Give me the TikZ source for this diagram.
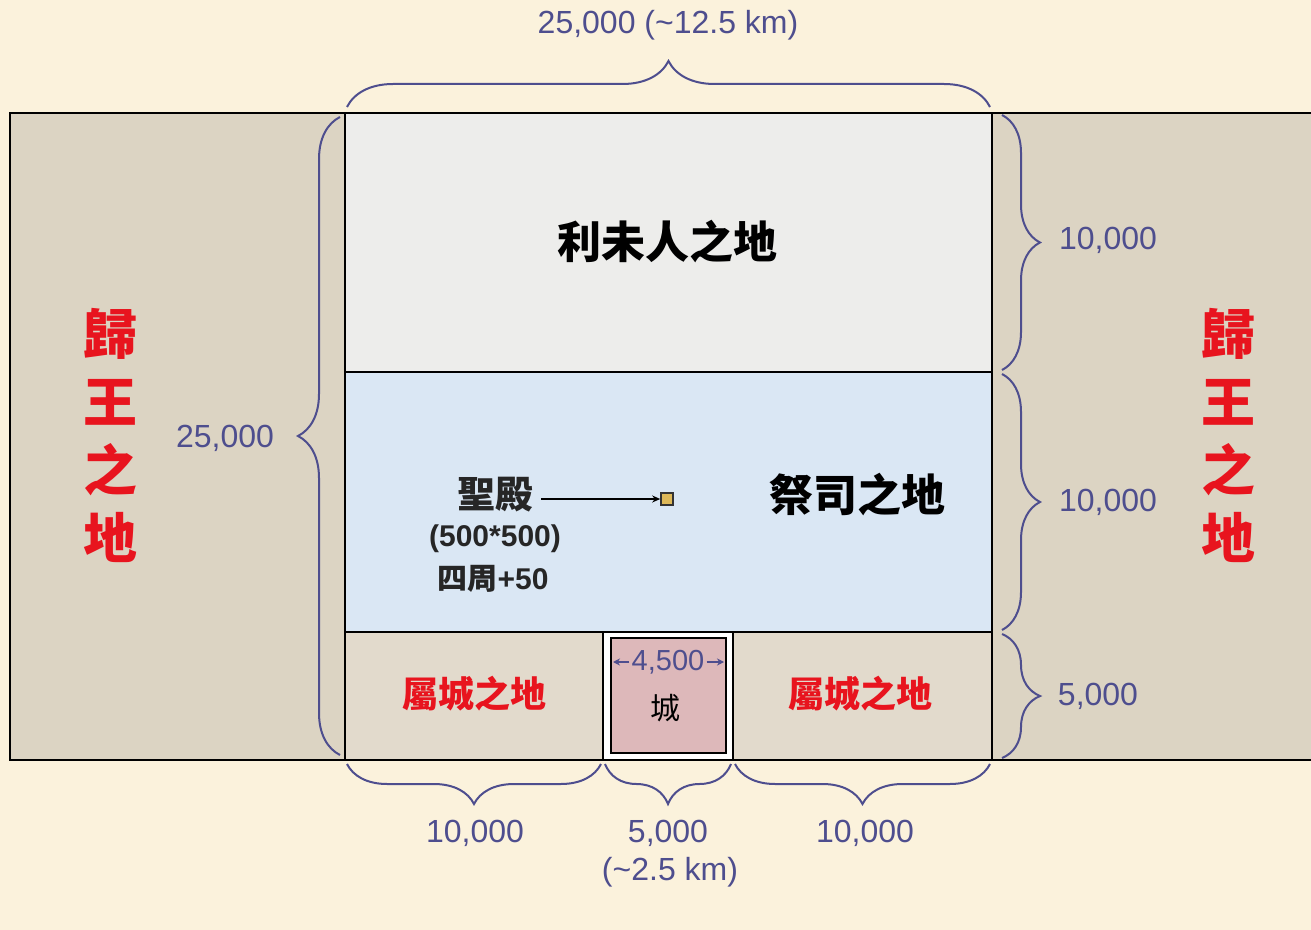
\documentclass[tikz,border=0pt]{standalone}
\usepackage{fontspec}
\setmainfont{Liberation Sans}
\newfontfamily\cjk{Noto Sans CJK TC}
\usetikzlibrary{decorations.pathreplacing,arrows.meta}
\definecolor{bgcream}{HTML}{FBF2DC}
\definecolor{outertan}{HTML}{DCD4C3}
\definecolor{topgray}{HTML}{EDEDEB}
\definecolor{midblue}{HTML}{DAE7F4}
\definecolor{bottan}{HTML}{E2DACC}
\definecolor{citypink}{HTML}{DDB8BA}
\definecolor{dimclr}{HTML}{4E4E8E}
\definecolor{redtxt}{HTML}{E8141E}
\definecolor{goldsq}{HTML}{DDB858}
\tikzset{
  region/.style={draw=black, line width=1pt},
  dimtext/.style={text=dimclr, font=\fontsize{16pt}{19pt}\selectfont, inner sep=1pt},
  bigcjk/.style={font=\cjk\bfseries\fontsize{22pt}{26pt}\selectfont, text=black},
  redcjk/.style={font=\cjk\bfseries\fontsize{18pt}{22pt}\selectfont, text=redtxt},
  kingtext/.style={font=\cjk\bfseries\fontsize{27pt}{34pt}\selectfont, text=redtxt, align=center},
  templetext/.style={font=\bfseries\fontsize{15pt}{18pt}\selectfont, text=black!85, inner sep=1pt},
  dimbrace/.style={draw=dimclr, line width=1pt, decorate, decoration={brace, amplitude=#1}},
  dimbrace/.default=20pt
}
\begin{document}
\begin{tikzpicture}[x=0.5pt,y=-0.5pt]
\fill[bgcream] (0,0) rectangle (1311,930);
\useasboundingbox (0,0) rectangle (1311,930);
% outer band
\fill[outertan] (10,113) rectangle (1311,760);
\draw[black, line width=1.2pt] (1311,113) -- (10,113) -- (10,760) -- (1311,760);
% inner regions
\draw[region, fill=topgray] (345,113) rectangle (992,372);
\draw[region, fill=midblue] (345,372) rectangle (992,632);
\draw[region, fill=bottan] (345,632) rectangle (992,760);
\fill[white] (603,633) rectangle (733,759);
\draw[region] (603,632) -- (603,760);
\draw[region] (733,632) -- (733,760);
\draw[region, line width=1.3pt, fill=citypink] (611,638) rectangle (726,753);
% region texts
\node[bigcjk] (levite) at (667,242) {利未人之地};
\node[bigcjk] (priest) at (857,495) {祭司之地};
\node[redcjk] (subl) at (474,694) {屬城之地};
\node[redcjk] (subr) at (860,694) {屬城之地};
\node[kingtext] (kingl) at (110,435) {歸\\王\\之\\地};
\node[kingtext] (kingr) at (1228,435) {歸\\王\\之\\地};
% temple
\node[templetext, font=\cjk\bfseries\fontsize{19pt}{22pt}\selectfont] (temple) at (495,495) {聖殿};
\node[templetext] (tsize) at (495,539) {(500*500)};
\node[templetext] (tplus) at (493,579) {{\cjk 四周}+50};
\node[draw=black!80, line width=0.8pt, fill=goldsq, minimum size=6pt, inner sep=0pt] (tsq) at (667,499) {};
\draw[black, line width=0.8pt, -{Stealth[length=4pt,width=3.5pt]}, shorten <=3pt] (temple.east |- tsq.west) -- (tsq.west);
% city
\node[dimtext, font=\fontsize{14.5pt}{17pt}\selectfont] (c45) at (668,662) {4,500};
\coordinate (cityl) at (613,662);
\coordinate (cityr) at (724,662);
\draw[dimclr, line width=0.8pt, -{Stealth[length=3.5pt,width=3.5pt]}] (c45.west) -- (cityl);
\draw[dimclr, line width=0.8pt, -{Stealth[length=3.5pt,width=3.5pt]}] (c45.east) -- (cityr);
\node[font=\cjk\fontsize{15pt}{18pt}\selectfont, text=black] (city) at (665,708) {城};
% braces
\draw[dimbrace=23pt] (347,107) -- (990,107);
\node[dimtext] (toplab) at (668,25) {25,000 (\char`\~12.5 km)};
\draw[dimbrace=21pt] (340,755) -- (340,117);
\node[dimtext] (leftlab) at (225,438) {25,000};
\draw[dimbrace=19pt] (1002,115) -- (1002,370);
\draw[dimbrace=19pt] (1002,374) -- (1002,630);
\draw[dimbrace=19pt] (1002,634) -- (1002,758);
\node[dimtext] (r1) at (1108,240) {10,000};
\node[dimtext] (r2) at (1108,502) {10,000};
\node[dimtext] (r3) at (1098,696) {5,000};
\draw[dimbrace=20pt] (601,764) -- (347,764);
\draw[dimbrace=20pt] (731,764) -- (605,764);
\draw[dimbrace=20pt] (990,764) -- (735,764);
\node[dimtext] (b1) at (475,833) {10,000};
\node[dimtext] (b2) at (668,833) {5,000};
\node[dimtext] (b2km) at (670,872) {(\char`\~2.5 km)};
\node[dimtext] (b3) at (865,833) {10,000};
\end{tikzpicture}
\end{document}
